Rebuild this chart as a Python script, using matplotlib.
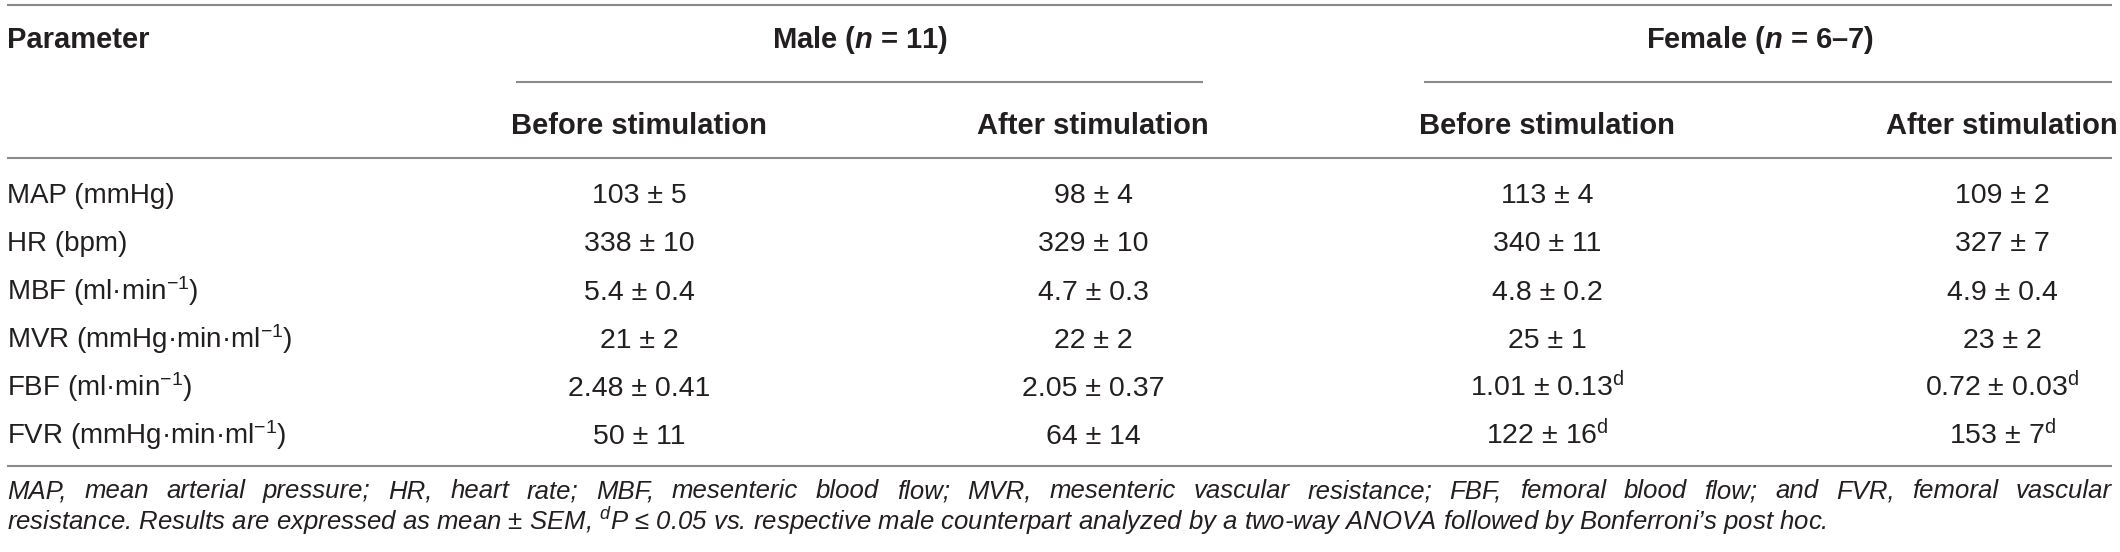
import matplotlib
matplotlib.use("Agg")
import matplotlib.pyplot as plt

plt.rcParams["font.family"] = ["Liberation Sans", "DejaVu Sans"]
plt.rcParams["mathtext.fontset"] = "custom"
plt.rcParams["mathtext.rm"] = "Liberation Sans"
plt.rcParams["mathtext.it"] = "Liberation Sans:italic"
plt.rcParams["mathtext.bf"] = "Liberation Sans:bold"
plt.rcParams["mathtext.bfit"] = "Liberation Sans:bold:italic"

# table content
groups = [r"Male ($\mathbfit{n}$ = 11)", r"Female ($\mathbfit{n}$ = 6–7)"]
conditions = ["Before stimulation", "After stimulation"]
params = ["MAP (mmHg)", "HR (bpm)", r"MBF (ml·min$^{-1}$)",
          r"MVR (mmHg·min·ml$^{-1}$)", r"FBF (ml·min$^{-1}$)",
          r"FVR (mmHg·min·ml$^{-1}$)"]
male_before = ["103 ± 5", "338 ± 10", "5.4 ± 0.4", "21 ± 2", "2.48 ± 0.41", "50 ± 11"]
male_after = ["98 ± 4", "329 ± 10", "4.7 ± 0.3", "22 ± 2", "2.05 ± 0.37", "64 ± 14"]
female_before = ["113 ± 4", "340 ± 11", "4.8 ± 0.2", "25 ± 1",
                 r"1.01 ± 0.13$^{\mathrm{d}}$", r"122 ± 16$^{\mathrm{d}}$"]
female_after = ["109 ± 2", "327 ± 7", "4.9 ± 0.4", "23 ± 2",
                r"0.72 ± 0.03$^{\mathrm{d}}$", r"153 ± 7$^{\mathrm{d}}$"]
note_line1 = ("MAP, mean arterial pressure; HR, heart rate; MBF, mesenteric blood flow; "
              "MVR, mesenteric vascular resistance; FBF, femoral blood flow; and FVR, "
              "femoral vascular")
note_line2 = (r"resistance. Results are expressed as mean ± SEM, $^{d}$P ≤ 0.05 vs. "
              "respective male counterpart analyzed by a two-way ANOVA followed by "
              "Bonferroni’s post hoc.")

# layout (pixels)
W, H = 2120, 552
left, right = 7, 2112
col_x = [639, 1093, 1547, 2002]
group_x = [860, 1760]
group_lines = [(516, 1203), (1424, 2112)]
row_y = [203, 251, 300, 348, 396, 444]
txt_color = "#231f20"
line_color = "#8a8a8a"
note_size = 18.5

fig = plt.figure(figsize=(W / 100, H / 100), dpi=100)
ax = fig.add_axes([0, 0, 1, 1])
ax.set_xlim(0, W)
ax.set_ylim(H, 0)
ax.axis("off")

# rules
for y in [5, 158, 466]:
    ax.plot([left, right], [y, y], color=line_color, lw=1.5, solid_capstyle="butt")
for x0, x1 in group_lines:
    ax.plot([x0, x1], [82, 82], color=line_color, lw=1.5, solid_capstyle="butt")

# header
ax.text(left, 48, "Parameter", fontsize=21, fontweight="bold", color=txt_color,
        va="baseline", ha="left")
for gx, g in zip(group_x, groups):
    ax.text(gx, 48, g, fontsize=21, fontweight="bold", color=txt_color,
            va="baseline", ha="center")
for i, cx in enumerate(col_x):
    ax.text(cx, 134, conditions[i % 2], fontsize=21, fontweight="bold",
            color=txt_color, va="baseline", ha="center")

# body
columns = [male_before, male_after, female_before, female_after]
for r, y in enumerate(row_y):
    ax.text(left, y, params[r], fontsize=20, color=txt_color, va="baseline", ha="left")
    for cx, col in zip(col_x, columns):
        ax.text(cx, y, col[r], fontsize=20.5, color=txt_color, va="baseline", ha="center")

# footnote, first line justified
fig.canvas.draw()
renderer = fig.canvas.get_renderer()
words = note_line1.split(" ")
items = []
total = 0
for w in words:
    t = ax.text(0, 498, w, fontsize=note_size, style="italic", color=txt_color,
                va="baseline", ha="left")
    wd = t.get_window_extent(renderer).width
    items.append((t, wd))
    total += wd
gap = (right - left - total) / (len(words) - 1)
x = left
for t, wd in items:
    t.set_x(x)
    x += wd + gap

ax.text(left, 530, note_line2, fontsize=note_size, style="italic", color=txt_color,
        va="baseline", ha="left")

fig.savefig("out.png", dpi=100)
